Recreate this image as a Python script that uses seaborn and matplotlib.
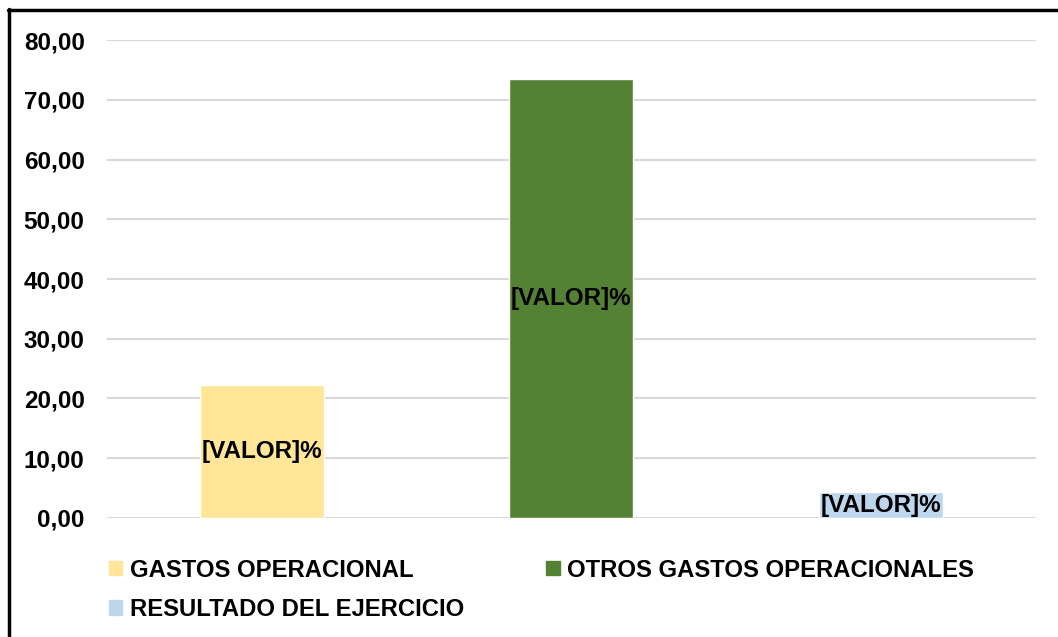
import pandas as pd
import matplotlib.pyplot as plt
import seaborn as sns
from matplotlib.lines import Line2D

# Chart data
categorias = ['GASTOS OPERACIONAL', 'OTROS GASTOS OPERACIONALES', 'RESULTADO DEL EJERCICIO']
valores = [22.2, 73.5, 4.3]
colores = ['#FFE699', '#548235', '#BDD7EE']
etiqueta = '[VALOR]%'

df = pd.DataFrame({'categoria': categorias, 'valor': valores})

sns.set_style('white')
plt.rcParams['font.family'] = ['Liberation Sans', 'DejaVu Sans']
plt.rcParams['font.weight'] = 'bold'
plt.rcParams['text.color'] = 'black'
plt.rcParams['ytick.color'] = 'black'

fs = 17.5
fs_leg = 17.2

fig = plt.figure(figsize=(10.58, 6.37), dpi=100)
ax = fig.add_axes([0.101, 0.187, 0.878, 0.750])

sns.barplot(data=df, x='categoria', y='valor', hue='categoria',
            palette=colores, width=0.4, saturation=1, legend=False, ax=ax)

for cont in ax.containers:
    ax.bar_label(cont, labels=[etiqueta] * len(cont), label_type='center',
                 fontsize=fs, fontweight='bold', color='black')

ax.set_ylim(0, 80)
ax.set_yticks(range(0, 81, 10))
ax.set_yticklabels([f'{v:.2f}'.replace('.', ',') for v in range(0, 81, 10)],
                   fontsize=fs, fontweight='bold', color='black')
ax.set_xticks([])
ax.set_xlabel('')
ax.set_ylabel('')
ax.tick_params(axis='y', length=0, pad=16)
ax.yaxis.grid(True, color='#D9D9D9', linewidth=1.5)
ax.set_axisbelow(True)
for s in ax.spines.values():
    s.set_visible(False)

# Legend below the plot (column-wise fill, so reorder)
orden = [0, 2, 1]
handles = [plt.Rectangle((0, 0), 1, 1, color=colores[i]) for i in orden]
fig.legend(handles, [categorias[i] for i in orden], loc='upper left',
           bbox_to_anchor=(0.103, 0.123), ncol=2, frameon=False,
           prop={'size': fs_leg, 'weight': 'bold'},
           handlelength=0.56, handleheight=0.56, handletextpad=0.3,
           columnspacing=3.45, labelspacing=0.68, borderaxespad=0,
           borderpad=0)

# Outer frame (cropped at right and bottom)
fig.add_artist(Line2D([8 / 1058, 1], [1 - 10 / 637, 1 - 10 / 637], color='black', lw=2.5))
fig.add_artist(Line2D([9 / 1058, 9 / 1058], [0, 1 - 9 / 637], color='black', lw=2.5))

fig.savefig('out.png', dpi=100)
